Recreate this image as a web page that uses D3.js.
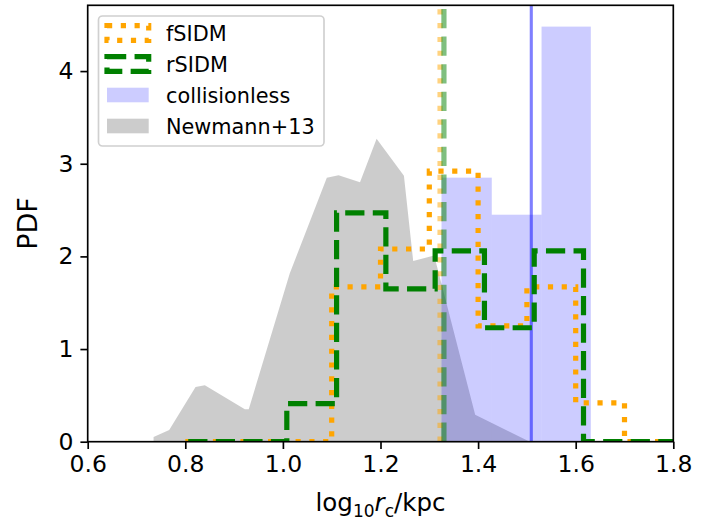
<!DOCTYPE html>
<html>
<head>
<meta charset="utf-8">
<script src="https://cdn.jsdelivr.net/npm/d3@7"></script>
<style>
    body { margin: 0; background: #fff; }
    text { font-family: "DejaVu Sans", sans-serif; fill: #000; }
</style>
</head>
<body>
<div id="my_dataviz"></div>
<script>
        // histogram bin edges and pdf heights
        var fsidmEdges = [0.8, 0.9, 1.0, 1.1, 1.2, 1.3, 1.4, 1.5, 1.6, 1.7, 1.8];
        var fsidmPdf = [0, 0, 0, 1.67, 2.08, 2.92, 1.25, 1.67, 0.42, 0];

        var rsidmEdges = [0.806, 0.907, 1.008, 1.110, 1.211, 1.312, 1.413, 1.515, 1.616, 1.717, 1.819];
        var rsidmPdf = [0, 0, 0.41, 2.47, 1.65, 2.06, 1.23, 2.06, 0, 0];

        var cdmEdges = [1.325, 1.428, 1.530, 1.631];
        var cdmPdf = [2.85, 2.45, 4.48];

        // medians drawn as vertical lines
        var fsidmMedian = 1.322;
        var rsidmMedian = 1.330;
        var cdmMedian = 1.509;

        // Newman+13 distribution (filled curve)
        var newmanX = [0.735, 0.767, 0.821, 0.840, 0.922, 0.930, 1.014, 1.090, 1.114, 1.158, 1.192, 1.248, 1.267, 1.310, 1.394, 1.506];
        var newmanY = [0.05, 0.126, 0.59, 0.61, 0.35, 0.35, 1.815, 2.85, 2.876, 2.80, 3.27, 2.87, 1.95, 2.01, 0.29, 0.0];

        var xTicks = [0.6, 0.8, 1.0, 1.2, 1.4, 1.6, 1.8];
        var yTicks = [0, 1, 2, 3, 4];

        var width = 717, height = 523;
        var mLeft = 87.7, mRight = 673.3, mTop = 5.3, mBottom = 441.7;
        var fs = 20.8;
        var tickFs = 23.5;

        var svg = d3.select("#my_dataviz").append("svg")
            .attr("width", width)
            .attr("height", height);

        var x = d3.scaleLinear().domain([0.6, 1.8]).range([mLeft, mRight]);
        var y = d3.scaleLinear().domain([0, 4.71]).range([mBottom, mTop]);

        svg.append("clipPath").attr("id", "plotclip")
            .append("rect")
            .attr("x", mLeft).attr("y", mTop)
            .attr("width", mRight - mLeft).attr("height", mBottom - mTop);

        var plot = svg.append("g").attr("clip-path", "url(#plotclip)");

        // grey area
        var newman = newmanX.map(function (d, i) { return [d, newmanY[i]]; });
        plot.append("path")
            .datum(newman)
            .attr("fill", "gray")
            .attr("fill-opacity", 0.4)
            .attr("d", d3.area()
                .x(function (d) { return x(d[0]); })
                .y0(y(0))
                .y1(function (d) { return y(d[1]); }));

        // collisionless bars
        plot.selectAll("rect.cdm")
            .data(cdmPdf)
            .enter().append("rect")
            .attr("class", "cdm")
            .attr("x", function (d, i) { return x(cdmEdges[i]); })
            .attr("width", function (d, i) { return x(cdmEdges[i + 1]) - x(cdmEdges[i]); })
            .attr("y", function (d) { return y(d); })
            .attr("height", function (d) { return y(0) - y(d); })
            .attr("fill", "blue")
            .attr("fill-opacity", 0.2);

        function stepPoints(edges, vals) {
            var pts = [[edges[0], 0]];
            vals.forEach(function (v, i) {
                pts.push([edges[i], v]);
                pts.push([edges[i + 1], v]);
            });
            pts.push([edges[edges.length - 1], 0]);
            return pts;
        }

        var line = d3.line()
            .x(function (d) { return x(d[0]); })
            .y(function (d) { return y(d[1]); });

        var lw = 5.2;
        var dotted = (1 * lw) + "," + (1.65 * lw);
        var dashed = (3.7 * lw) + "," + (1.6 * lw);

        // median lines
        plot.append("line")
            .attr("x1", x(cdmMedian)).attr("x2", x(cdmMedian))
            .attr("y1", mTop).attr("y2", mBottom)
            .attr("stroke", "blue").attr("stroke-opacity", 0.5)
            .attr("stroke-width", 3.1);

        plot.append("line")
            .attr("x1", x(fsidmMedian)).attr("x2", x(fsidmMedian))
            .attr("y1", mBottom).attr("y2", mTop)
            .attr("stroke", "orange").attr("stroke-opacity", 0.5)
            .attr("stroke-width", lw)
            .attr("stroke-dasharray", dotted);

        plot.append("line")
            .attr("x1", x(rsidmMedian)).attr("x2", x(rsidmMedian))
            .attr("y1", mBottom).attr("y2", mTop)
            .attr("stroke", "green").attr("stroke-opacity", 0.5)
            .attr("stroke-width", lw)
            .attr("stroke-dasharray", dashed);

        // step histograms
        plot.append("path")
            .datum(stepPoints(fsidmEdges, fsidmPdf))
            .attr("d", line)
            .attr("fill", "none")
            .attr("stroke", "orange")
            .attr("stroke-width", lw)
            .attr("stroke-dasharray", dotted);

        plot.append("path")
            .datum(stepPoints(rsidmEdges, rsidmPdf))
            .attr("d", line)
            .attr("fill", "none")
            .attr("stroke", "green")
            .attr("stroke-width", lw)
            .attr("stroke-dasharray", dashed);

        // axes
        var xAxis = svg.append("g")
            .attr("transform", "translate(0," + mBottom + ")")
            .call(d3.axisBottom(x).tickValues(xTicks).tickFormat(d3.format(".1f")).tickSize(7.3).tickPadding(6));
        var yAxis = svg.append("g")
            .attr("transform", "translate(" + mLeft + ",0)")
            .call(d3.axisLeft(y).tickValues(yTicks).tickFormat(d3.format("d")).tickSize(7.3).tickPadding(7));

        [xAxis, yAxis].forEach(function (a) {
            a.select(".domain").remove();
            a.selectAll(".tick line").attr("stroke", "#000").attr("stroke-width", 1.67);
            a.selectAll(".tick text").style("font-size", tickFs + "px").style("font-family", "DejaVu Sans");
        });

        svg.append("rect")
            .attr("x", mLeft).attr("y", mTop)
            .attr("width", mRight - mLeft).attr("height", mBottom - mTop)
            .attr("fill", "none")
            .attr("stroke", "#000")
            .attr("stroke-width", 1.67);

        // axis labels
        var xl = svg.append("text")
            .attr("x", (mLeft + mRight) / 2)
            .attr("y", 511)
            .attr("text-anchor", "middle")
            .style("font-size", "24.5px");
        xl.append("tspan").text("log");
        xl.append("tspan").attr("dy", 5.5).style("font-size", "17px").text("10");
        xl.append("tspan").attr("dy", -5.5).style("font-style", "italic").text("r");
        xl.append("tspan").attr("dy", 5.5).style("font-size", "17px").text("c");
        xl.append("tspan").attr("dy", -5.5).text("/kpc");

        svg.append("text")
            .attr("transform", "translate(36.5," + ((mTop + mBottom) / 2) + ") rotate(-90)")
            .attr("text-anchor", "middle")
            .style("font-size", "27px")
            .text("PDF");

        // legend
        var legend = svg.append("g");
        legend.append("rect")
            .attr("x", 98.5).attr("y", 16)
            .attr("width", 225.5).attr("height", 130)
            .attr("rx", 4).attr("ry", 4)
            .attr("fill", "#fff").attr("fill-opacity", 0.8)
            .attr("stroke", "#d0d0d0")
            .attr("stroke-width", 1.67);

        var entries = [
            { label: "fSIDM", type: "step", color: "orange", dash: dotted },
            { label: "rSIDM", type: "step", color: "green", dash: dashed },
            { label: "collisionless", type: "fill", color: "blue", opacity: 0.2 },
            { label: "Newmann+13", type: "fill", color: "gray", opacity: 0.4 }
        ];
        var rowY = [33, 64, 95, 126];

        entries.forEach(function (e, i) {
            var cy = rowY[i];
            if (e.type === "step") {
                legend.append("rect")
                    .attr("x", 107).attr("y", cy - 7.3)
                    .attr("width", 41.7).attr("height", 14.6)
                    .attr("fill", "none")
                    .attr("stroke", e.color)
                    .attr("stroke-width", lw)
                    .attr("stroke-dasharray", e.dash);
            } else {
                legend.append("rect")
                    .attr("x", 107).attr("y", cy - 7.3)
                    .attr("width", 41.7).attr("height", 14.6)
                    .attr("fill", e.color)
                    .attr("fill-opacity", e.opacity);
            }
            legend.append("text")
                .attr("x", 166)
                .attr("y", cy + 7.5)
                .style("font-size", fs + "px")
                .text(e.label);
        });
</script>
</body>
</html>
